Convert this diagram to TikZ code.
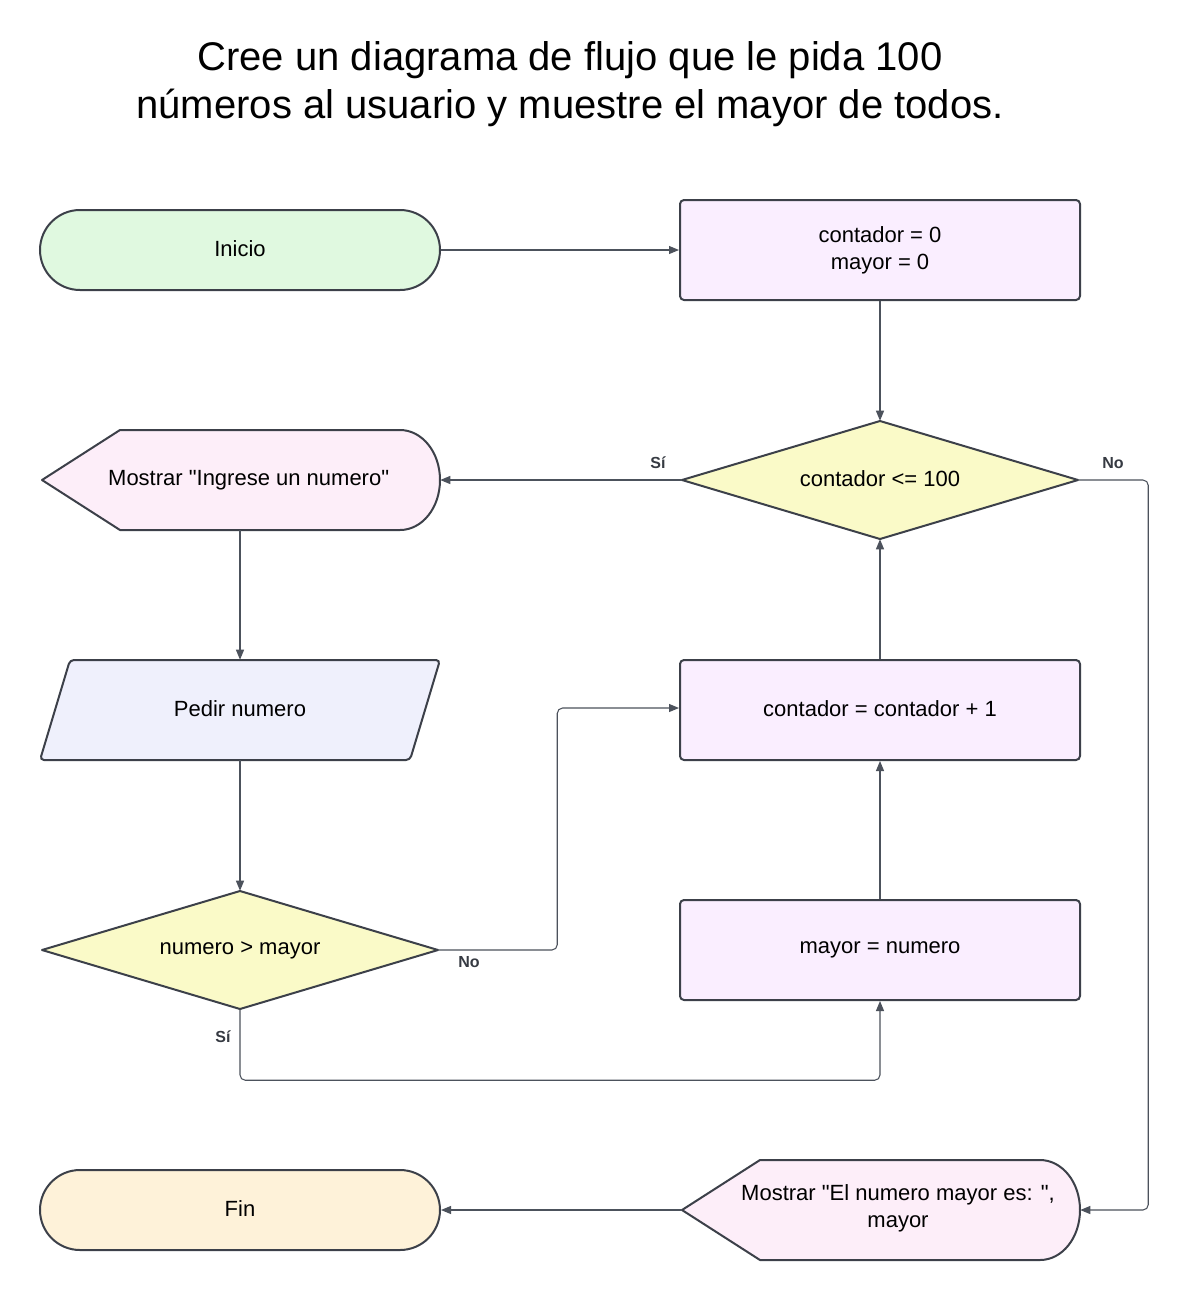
\documentclass[tikz,border=0pt]{standalone}
\usepackage{fontspec}
\setmainfont{Liberation Sans}
\usetikzlibrary{shapes.geometric,arrows.meta}
\definecolor{strk}{HTML}{3C4049}
\definecolor{conn}{HTML}{4C525C}
\definecolor{cgreen}{HTML}{E0F9E0}
\definecolor{cbox}{HTML}{FAEEFF}
\definecolor{cdec}{HTML}{FAFAC8}
\definecolor{cdisp}{HTML}{FDEEF9}
\definecolor{cpar}{HTML}{EFF0FC}
\definecolor{cfin}{HTML}{FEF2D9}
\begin{document}
\begin{tikzpicture}[x=0.75pt,y=-0.75pt,
  txt/.style={font=\fontsize{16.5}{20}\selectfont, text=black},
  shp/.style={draw=strk, line width=1.5pt},
  term/.style={shp, txt, rounded corners=30pt, minimum width=300pt, minimum height=60pt, inner sep=0pt},
  procbox/.style={shp, txt, rounded corners=3pt, minimum width=300pt, minimum height=75pt, inner sep=0pt, align=center},
  frame/.style={minimum width=298.5pt, minimum height=75pt, inner sep=0pt},
  dframe/.style={minimum width=297pt, minimum height=88.5pt, inner sep=0pt},
  conn/.style={draw=conn, line width=0.8pt, rounded corners=4pt, -{Triangle[length=7.5pt,width=6pt]}},
  lbl/.style={font=\bfseries\fontsize{12}{14}\selectfont, text=strk!90!black}
]
\fill[white] (0,0) rectangle (1190,1300);
\useasboundingbox (0,0) rectangle (1190,1300);

\node[align=center, font=\fontsize{30}{35.5}\selectfont] (title) at (570,84)
  {Cree un diagrama de flujo que le pida 100\\números al usuario y muestre el mayor de todos.};

% Inicio
\node[term, fill=cgreen] (start) at (240,250) {\raisebox{2pt}{Inicio}};
% init
\node[procbox, fill=cbox] (init) at (880,250) {contador = 0\\mayor = 0};

% decision 1
\filldraw[shp, fill=cdec, line join=round] (682,480) -- (880,421) -- (1078,480) -- (880,539) -- cycle;
\node[dframe, txt] (dec1) at (880,480) {\raisebox{2pt}{contador <= 100}};

% display 1
\filldraw[shp, fill=cdisp, line join=round] (42,480) -- (120,430) -- (400,430)
  .. controls (422,430) and (440,452) .. (440,480)
  .. controls (440,508) and (422,530) .. (400,530) -- (120,530) -- cycle;
\node[frame, minimum width=300pt, txt] (disp1) at (240,480) {\hspace*{13pt}\raisebox{2pt}{Mostrar \textquotedbl Ingrese un numero\textquotedbl}};

% parallelogram
\filldraw[shp, fill=cpar, rounded corners=3pt] (70,660) -- (440,660) -- (410,760) -- (40,760) -- cycle;
\node[frame, txt] (inp) at (240,710) {\raisebox{2pt}{Pedir numero}};

% decision 2
\filldraw[shp, fill=cdec, line join=round] (42,950) -- (240,891) -- (438,950) -- (240,1009) -- cycle;
\node[dframe, txt] (dec2) at (240,950) {\raisebox{2pt}{numero > mayor}};

% boxes
\node[procbox, fill=cbox] (inc) at (880,710) {\raisebox{2pt}{contador = contador + 1}};
\node[procbox, fill=cbox] (asg) at (880,950) {\raisebox{2pt}{mayor = numero}};

% Fin
\node[term, fill=cfin] (fin) at (240,1210) {\raisebox{2pt}{Fin}};

% display 2
\filldraw[shp, fill=cdisp, line join=round] (682,1210) -- (760,1160) -- (1040,1160)
  .. controls (1062,1160) and (1080,1182) .. (1080,1210)
  .. controls (1080,1238) and (1062,1260) .. (1040,1260) -- (760,1260) -- cycle;
\node[frame] (disp2) at (881,1210) {};
\node[txt, align=center] (disp2t) at (898,1208) {Mostrar \textquotedbl El numero mayor es: \textquotedbl,\\mayor};

% connectors
\draw[conn] (start.east) -- (init.west);
\draw[conn] (init.south) -- (dec1.north);
\draw[conn] (dec1.west) -- (disp1.east);
\draw[conn] (dec1.east) -- ++(70,0) |- (disp2.east);
\draw[conn] (disp1.south) -- (inp.north);
\draw[conn] (inp.south) -- (dec2.north);
\draw[conn] (dec2.east) -- ++(119,0) |- ([yshift=1.5pt]inc.west);
\draw[conn] (dec2.south) -- ++(0,71) -| (asg.south);
\draw[conn] (asg.north) -- (inc.south);
\draw[conn] (inc.north) -- (dec1.south);
\draw[conn] (disp2.west) -- (fin.east);

% labels
\node[lbl] (l1) at (658,463) {Sí};
\node[lbl] (l2) at (1113,463) {No};
\node[lbl] (l3) at (469,962) {No};
\node[lbl] (l4) at (223,1037) {Sí};
\end{tikzpicture}
\end{document}
